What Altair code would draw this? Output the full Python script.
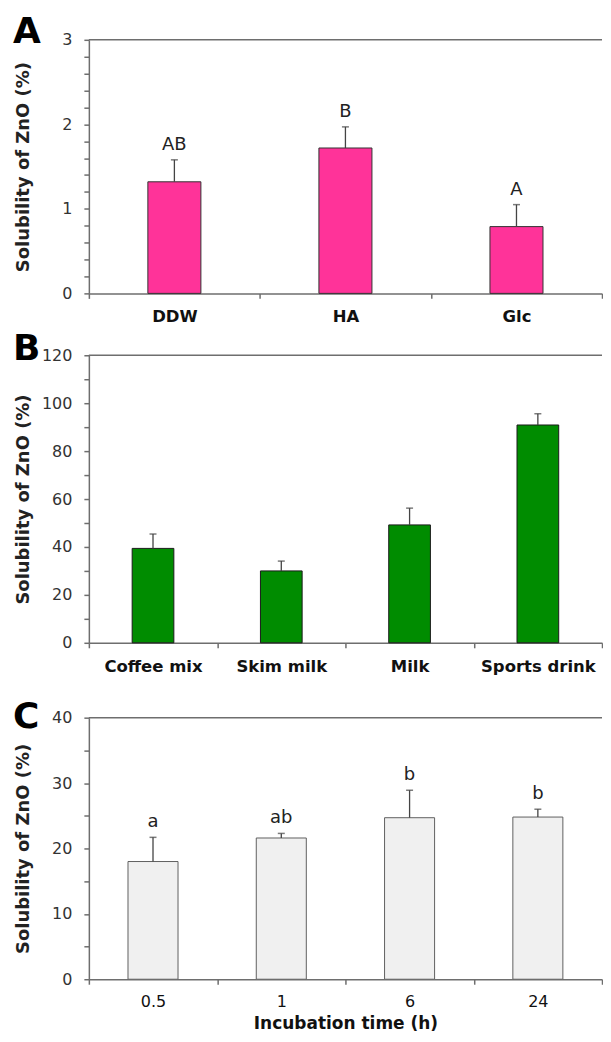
import altair as alt
import pandas as pd

FONT = "DejaVu Sans"
W = 514
AX = "#6e6e6e"

# ---- Panel A ----
a_cats = ["DDW", "HA", "Glc"]
a_mean = [1.32, 1.72, 0.79]
a_sd = [0.26, 0.25, 0.26]
a_sig = ["AB", "B", "A"]
a_ticks = [0, 0.2, 0.4, 0.6, 0.8, 1, 1.2, 1.4, 1.6, 1.8, 2, 2.2, 2.4, 2.6, 2.8, 3]

# ---- Panel B ----
b_cats = ["Coffee mix", "Skim milk", "Milk", "Sports drink"]
b_mean = [39.4, 30.0, 49.2, 90.9]
b_sd = [6.0, 4.1, 7.0, 4.7]
b_sig = ["", "", "", ""]
b_ticks = [0, 10, 20, 30, 40, 50, 60, 70, 80, 90, 100, 110, 120]

# ---- Panel C ----
c_cats = ["0.5", "1", "6", "24"]
c_mean = [18.0, 21.6, 24.7, 24.8]
c_sd = [3.7, 0.7, 4.2, 1.2]
c_sig = ["a", "ab", "b", "b"]
c_ticks = [0, 5, 10, 15, 20, 25, 30, 35, 40]


def panel(letter, letter_y, cats, mean, sd, sig, ticks, major, ymax, height,
          top_off, fill, stroke, band, xlab_weight, xlab_size, xlab_pad, xtitle):
    df = pd.DataFrame({
        "cat": cats,
        "mean": mean,
        "top": [round(m + s, 3) for m, s in zip(mean, sd)],
        "sig": sig,
    })
    xaxis_kw = dict(
        labelAngle=0, tickBand="extent", tickSize=5, tickColor=AX, tickWidth=1.5,
        domainColor=AX, domainWidth=1.5, labelFont=FONT, labelFontSize=xlab_size,
        labelFontWeight=xlab_weight, labelColor="#111", labelPadding=xlab_pad,
    )
    if xtitle is not None:
        xaxis = alt.Axis(title=xtitle, titleFont=FONT, titleFontSize=17,
                         titleFontWeight="bold", titleColor="#111",
                         titlePadding=6, **xaxis_kw)
    else:
        xaxis = alt.Axis(title=None, **xaxis_kw)
    x = alt.X("cat:N", sort=cats,
              scale=alt.Scale(paddingInner=0, paddingOuter=0), axis=xaxis)
    yscale = alt.Scale(domain=[0, ymax], range=[height, top_off], nice=False)
    yaxis = alt.Axis(
        values=ticks,
        labelExpr=f"datum.value % {major} === 0 ? '' + datum.value : ''",
        labelOverlap=False, labelFlush=False,
        tickSize=5, tickColor=AX, tickWidth=1.5,
        domainColor=AX, domainWidth=1.5,
        labelFont=FONT, labelFontSize=16, labelColor="#333", labelPadding=12,
        title="Solubility of ZnO (%)", titleFont=FONT, titleFontSize=18,
        titleFontWeight="bold", titleColor="#222",
        titleX=-65, titleY=(height + top_off) / 2, titleAngle=270,
        titleAlign="center", titleBaseline="middle",
    )

    def Y(f):
        return alt.Y(f"{f}:Q", scale=yscale, axis=yaxis)

    base = alt.Chart(df)
    bars = base.mark_bar(width=alt.RelativeBandSize(band), fill=fill,
                         stroke=stroke, strokeWidth=1).encode(x=x, y=Y("mean"))
    err = base.mark_rule(color="#444", strokeWidth=1.3).encode(
        x=x, y=Y("mean"), y2="top:Q")
    cap = base.mark_tick(color="#444", thickness=1.5, size=7).encode(
        x=x, y=Y("top"))
    layers = [bars, err, cap]
    if any(s for s in sig):
        txt = base.mark_text(font=FONT, fontSize=18, baseline="alphabetic",
                             dy=-10, color="#222").encode(
            x=x, y=Y("top"), text="sig:N")
        layers.append(txt)
    frame = alt.Chart(pd.DataFrame({"v": [0]})).mark_rule(
        color=AX, strokeWidth=1.5).encode(
        x=alt.value(0), x2=alt.value(W), y=alt.value(top_off))
    lab = alt.Chart(pd.DataFrame({"t": [letter]})).mark_text(
        font=FONT, fontSize=36, fontWeight="bold", align="left",
        baseline="alphabetic", color="#000").encode(
        x=alt.value(-76), y=alt.value(letter_y), text="t:N")
    layers += [frame, lab]
    return alt.layer(*layers).properties(width=W, height=height)


pA = panel("A", 3, a_cats, a_mean, a_sd, a_sig, a_ticks, 1, 3, 254, 0,
           "#FF3399", "#333333", 0.31, "bold", 16.5, 10, None)
pB = panel("B", 5, b_cats, b_mean, b_sd, b_sig, b_ticks, 20, 120, 288, 0,
           "#008C00", "#1a1a1a", 0.325, "bold", 16.5, 11, None)
pC = panel("C", 23, c_cats, c_mean, c_sd, c_sig, c_ticks, 10, 40, 275, 13,
           "#F0F0F0", "#606060", 0.39, "normal", 16, 9, "Incubation time (h)")

chart = alt.vconcat(pA, pB, pC, spacing=62, bounds="flush").properties(
    padding={"left": 5, "top": 5, "right": 0, "bottom": 0}
).configure_view(stroke=None).configure_axis(grid=False)

chart.save("out.html", embed_options={"renderer": "svg", "actions": False})
